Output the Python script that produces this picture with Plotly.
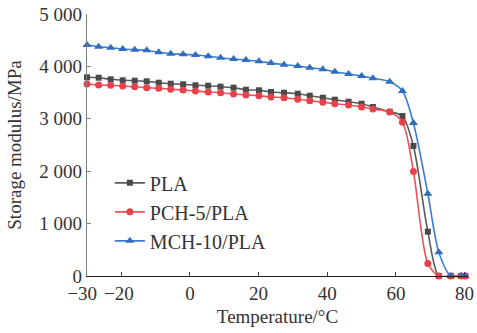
import plotly.graph_objects as go

temperature = [-30, -26.6, -23.1, -19.6, -16.1, -12.6, -9.1, -5.6, -2.0, 1.6,
               5.3, 8.9, 12.7, 16.3, 20.1, 23.6, 27.4, 31.4, 34.9, 38.7,
               42.2, 46.2, 50.0, 53.3, 58.2, 61.9, 65.1, 69.3, 72.5, 76.0,
               79.0, 80.2]

pla = [3792, 3784, 3754, 3735, 3727, 3715, 3689, 3670, 3658, 3639,
       3632, 3613, 3594, 3555, 3544, 3511, 3498, 3479, 3441, 3403,
       3365, 3326, 3288, 3225, 3135, 3053, 2481, 846, 0, 0,
       0, 0]

pch5_pla = [3664, 3645, 3639, 3626, 3613, 3594, 3582, 3563, 3550, 3531,
            3511, 3498, 3473, 3454, 3441, 3416, 3403, 3372, 3345, 3315,
            3288, 3263, 3225, 3187, 3130, 2936, 1994, 240, 0, 0,
            0, 0]

mch10_pla = [4408, 4376, 4357, 4332, 4319, 4307, 4269, 4242, 4231, 4218,
             4196, 4166, 4141, 4122, 4097, 4065, 4032, 4008, 3975, 3945,
             3899, 3855, 3817, 3773, 3708, 3531, 2920, 1570, 452, 0,
             0, 0]

x_tickvals = [-30, -20, 0, 20, 40, 60, 80]
x_ticktext = ["\u221230\u00a0\u00a0", "\u221220\u00a0", "0", "20", "40", "60", "80"]
y_tickvals = [0, 1000, 2000, 3000, 4000, 5000]
y_ticktext = ["0", "1 000", "2 000", "3 000", "4 000", "5 000"]

series = [
    ("PLA", pla, "#4a4a4a", "#5a5a5a", "square", 6),
    ("PCH-5/PLA", pch5_pla, "#e8414b", "#ee5258", "circle", 7),
    ("MCH-10/PLA", mch10_pla, "#2f6dbf", "#3c7ccf", "triangle-up", 8),
]

fig = go.Figure()
for name, vals, mcol, lcol, sym, size in series:
    fig.add_trace(go.Scatter(
        x=temperature, y=vals, name=name, mode="lines+markers",
        line=dict(color=lcol, width=1.6, shape="spline", smoothing=0.8),
        marker=dict(color=mcol, symbol=sym, size=size),
        cliponaxis=False,
    ))

font = "Liberation Serif, Times New Roman, serif"
fig.update_layout(
    width=477, height=333,
    margin=dict(l=87, r=9, t=14, b=57, autoexpand=False),
    paper_bgcolor="white", plot_bgcolor="white",
    font=dict(family=font, size=19, color="#333333"),
    showlegend=True,
    legend=dict(x=0.06, y=0.43, xanchor="left", yanchor="top",
                bgcolor="rgba(0,0,0,0)", borderwidth=0,
                font=dict(family=font, size=20, color="#333333"),
                tracegroupgap=0, itemwidth=30),
    xaxis=dict(
        range=[-30, 81], showgrid=False, zeroline=False, automargin=False,
        showline=True, linecolor="#222222", linewidth=1.2,
        ticks="inside", ticklen=4, tickcolor="#444444",
        tickvals=x_tickvals, ticktext=x_ticktext, tickangle=0,
        tickfont=dict(size=19),
        title=dict(text="Temperature/\u00b0C", font=dict(size=19), standoff=6),
    ),
    yaxis=dict(
        range=[0, 5000], showgrid=False, zeroline=False, automargin=False,
        showline=True, linecolor="#808080", linewidth=1.2,
        ticks="inside", ticklen=4, tickcolor="#808080",
        tickvals=y_tickvals, ticktext=y_ticktext,
        tickfont=dict(size=19),
        title=dict(text="Storage modulus/MPa", font=dict(size=19), standoff=12),
    ),
)

fig.write_html("out.html", config={"displayModeBar": False},
               post_script="document.body.style.margin='0';document.body.style.padding='0';")
